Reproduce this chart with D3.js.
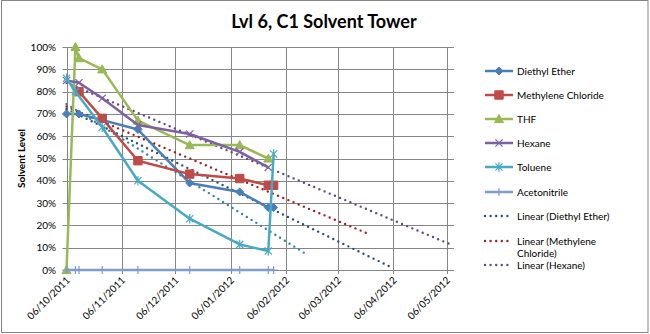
<!DOCTYPE html>
<html><head><meta charset="utf-8">
<script src="https://cdn.jsdelivr.net/npm/d3@7"></script>
<style>body{margin:0;background:#fff}svg{display:block}text{font-family:Lato,"Open Sans",sans-serif}</style>
</head><body><svg id="c" width="650" height="334"></svg>
<script>
// ---------- data ----------
const dates = ["2011-10-06","2011-10-11","2011-10-13","2011-10-26","2011-11-15","2011-12-14","2012-01-11","2012-01-27","2012-01-30"];
const diethylEther      = [70, null, 70, null, 63, 39, 35, 28, 28];
const methyleneChloride = [null, null, 80, 68, 49, 43, 41, 38, 38];
const thf               = [0, 100, 95, 90, 67, 56, 56, 50, null];
const hexane            = [85, null, 84, 77, 65, 61, 53, 46, null];
const toluene           = [86, 80, null, 64, 40, 23, 11.5, 8.5, 52];
const acetonitrile      = [0, 0, 0, 0, 0, 0, 0, 0, 0];
const seriesNames = ["Diethyl Ether","Methylene Chloride","THF","Hexane","Toluene","Acetonitrile"];
const trendNames = ["Linear (Diethyl Ether)","Linear (Methylene Chloride)","Linear (Hexane)","Linear (Toluene)"];
const trendEnds = ["2012-04-04","2012-03-23","2012-05-07","2012-02-18"];
const xTickDates = ["2011-10-06","2011-11-06","2011-12-06","2012-01-06","2012-02-06","2012-03-06","2012-04-06","2012-05-06"];
const xDomain = ["2011-10-06","2012-05-10"];
const yTicks = [0,10,20,30,40,50,60,70,80,90,100];
const title = "Lvl 6, C1 Solvent Tower";
const yTitle = "Solvent Level";

// ---------- setup ----------
const parse = d3.utcParse("%Y-%m-%d");
const svg = d3.select("#c");
const L = 66.5, R = 454, T = 47, B = 270;
const x = d3.scaleUtc().domain(xDomain.map(parse)).range([L, R]);
const y = d3.scaleLinear().domain([0, 100]).range([B, T]);
const crisp = v => Math.round(v) + 0.5;

svg.append("rect").attr("x",1.5).attr("y",0.5).attr("width",646.5).attr("height",332)
  .attr("fill","#fff").attr("stroke","#868686");

svg.append("text").attr("x",324).attr("y",28).attr("text-anchor","middle")
  .attr("font-size",18).attr("font-weight","bold").text(title);

// gridlines
const g = svg.append("g");
yTicks.forEach(t => {
  g.append("line").attr("x1",L-4).attr("x2",R).attr("y1",crisp(y(t))).attr("y2",crisp(y(t)))
   .attr("stroke","#868686").attr("stroke-width",1);
  g.append("text").attr("x",56).attr("y",y(t)).attr("dy","0.35em").attr("text-anchor","end")
   .attr("font-size",10).text(t + "%");
});
xTickDates.map(parse).forEach((d,i) => {
  const xx = crisp(x(d));
  g.append("line").attr("x1",xx).attr("x2",xx).attr("y1",T).attr("y2",B+4)
   .attr("stroke","#868686").attr("stroke-width",1);
  g.append("text").attr("transform",`translate(${x(d)+4},${B+11}) rotate(-45)`)
   .attr("text-anchor","end").attr("font-size",10).text(xTickDates[i].slice(8,10)+"/"+xTickDates[i].slice(5,7)+"/"+xTickDates[i].slice(0,4));
});
svg.append("text").attr("transform",`translate(25,${(T+B)/2}) rotate(-90)`)
  .attr("text-anchor","middle").attr("font-size",10).attr("font-weight","bold").text(yTitle);

// ---------- series ----------
const colors = ["#4A7EBB","#BE4B48","#98B954","#7D60A0","#46AAC5","#7E9CCF"];
const trendColors = ["#2C4D75","#A31E22","#5F4A80","#31859C"];
const allSeries = [diethylEther, methyleneChloride, thf, hexane, toluene, acetonitrile];
const markerPath = {
  diamond: s => `M0,${-s}L${s},0L0,${s}L${-s},0Z`,
  square:  s => `M${-s},${-s}H${s}V${s}H${-s}Z`,
  triangle:s => `M0,${-s}L${s},${s*0.8}L${-s},${s*0.8}Z`,
  x:       s => `M${-s},${-s}L${s},${s}M${-s},${s}L${s},${-s}`,
  star:    s => `M${-s},${-s}L${s},${s}M${-s},${s}L${s},${-s}M0,${-s*1.3}V${s*1.3}`,
  plus:    s => `M0,${-s}V${s}M${-s},0H${s}`
};
const markers = ["diamond","square","triangle","x","star","plus"];
const msize = [4,4.2,4.5,3.6,3.6,4];
function drawMarker(sel, i, cx, cy) {
  const m = markers[i];
  const filled = (m==="diamond"||m==="square"||m==="triangle");
  sel.append("path").attr("transform",`translate(${cx},${cy})`).attr("d",markerPath[m](msize[i]))
    .attr("fill", filled ? colors[i] : "none").attr("stroke", colors[i]).attr("stroke-width", filled?1:1.2);
}
const pts = vals => vals.map((v,i)=>({d:parse(dates[i]),v})).filter(p=>p.v!==null);
const line = d3.line().x(p=>x(p.d)).y(p=>y(p.v));

// trendlines (least-squares on date values, as the spreadsheet trendline does)
const trendSeries = [diethylEther, methyleneChloride, hexane, toluene];
const t0 = parse(dates[0]);
trendSeries.forEach((vals,k) => {
  const p = pts(vals).map(q=>({t:(q.d - t0)/864e5, v:q.v}));
  const mx = d3.mean(p,q=>q.t), my = d3.mean(p,q=>q.v);
  const slope = d3.sum(p,q=>(q.t-mx)*(q.v-my)) / d3.sum(p,q=>(q.t-mx)**2);
  const icpt = my - slope*mx;
  const tEnd = (parse(trendEnds[k]) - t0)/864e5;
  svg.append("line").attr("x1",x(t0)).attr("y1",y(icpt))
    .attr("x2",x(parse(trendEnds[k]))).attr("y2",y(icpt+slope*tEnd))
    .attr("stroke",trendColors[k]).attr("stroke-width",2.4).attr("stroke-linecap","round")
    .attr("stroke-dasharray","0,5.6");
});

allSeries.forEach((vals,i) => {
  const p = pts(vals);
  svg.append("path").attr("d",line(p)).attr("fill","none").attr("stroke",colors[i])
    .attr("stroke-width",2.5).attr("stroke-linejoin","round");
  const mg = svg.append("g");
  p.forEach(q => drawMarker(mg, i, x(q.d), y(q.v)));
});

// ---------- legend ----------
const lx1 = 485, lx2 = 513, tx = 517;
const legY = [71, 95, 119, 143, 167, 192];
const lg = svg.append("g");
seriesNames.forEach((n,i) => {
  lg.append("line").attr("x1",lx1).attr("x2",lx2).attr("y1",legY[i]).attr("y2",legY[i])
    .attr("stroke",colors[i]).attr("stroke-width",2.5);
  drawMarker(lg, i, (lx1+lx2)/2, legY[i]);
  lg.append("text").attr("x",tx).attr("y",legY[i]).attr("dy","0.35em").attr("font-size",10).text(n);
});
const tLegY = [216, 241, 265];
const tLegLines = [[trendNames[0]],["Linear (Methylene","Chloride)"],[trendNames[2]]];
[0,1,2].forEach(k => {
  lg.append("line").attr("x1",lx1).attr("x2",lx2-1).attr("y1",tLegY[k]).attr("y2",tLegY[k])
    .attr("stroke",trendColors[k]).attr("stroke-width",2.4).attr("stroke-linecap","round")
    .attr("stroke-dasharray","0,5.6");
  tLegLines[k].forEach((s,j) => lg.append("text").attr("x",tx).attr("y",tLegY[k]+j*12.5)
    .attr("dy","0.35em").attr("font-size",10).text(s));
});
</script></body></html>
